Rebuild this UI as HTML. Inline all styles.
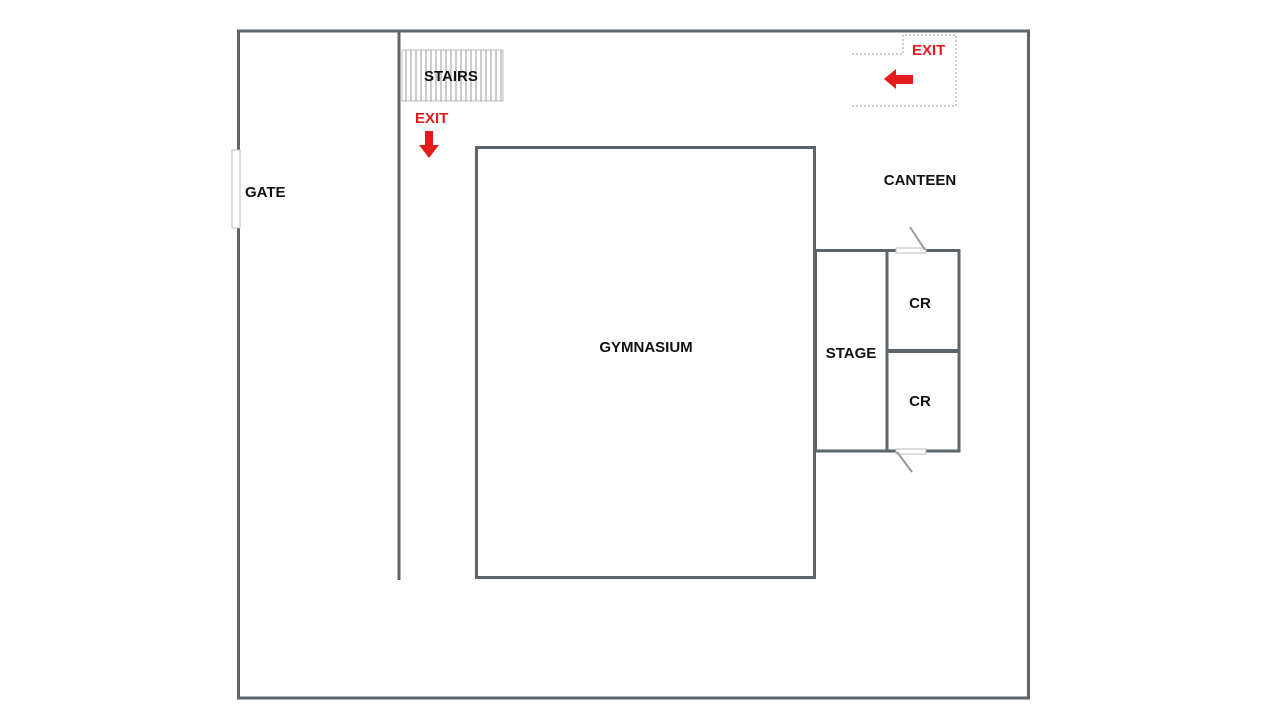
<!DOCTYPE html>
<html><head><meta charset="utf-8"><style>html,body{margin:0;padding:0;background:#fff}svg{display:block}text{font-family:"Liberation Sans",sans-serif;font-weight:bold}</style></head><body>
<svg width="1280" height="720" viewBox="0 0 1280 720">
<rect x="238.5" y="31" width="790" height="667" fill="none" stroke="#5b656b" stroke-width="3"/>
<rect x="232" y="150" width="8" height="78" fill="#fff" stroke="#bbb" stroke-width="1"/>
<text x="245" y="197" font-size="15" fill="#111">GATE</text>
<line x1="399" y1="31" x2="399" y2="580" stroke="#5b656b" stroke-width="3"/>
<rect x="402" y="50" width="101" height="51" fill="#fff" stroke="#bbb" stroke-width="1"/>
<g stroke="#999" stroke-width="1">
<line x1="406" y1="50" x2="406" y2="101"/><line x1="411" y1="50" x2="411" y2="101"/><line x1="416" y1="50" x2="416" y2="101"/><line x1="421" y1="50" x2="421" y2="101"/><line x1="426" y1="50" x2="426" y2="101"/><line x1="431" y1="50" x2="431" y2="101"/><line x1="436" y1="50" x2="436" y2="101"/><line x1="441" y1="50" x2="441" y2="101"/><line x1="446" y1="50" x2="446" y2="101"/><line x1="451" y1="50" x2="451" y2="101"/><line x1="456" y1="50" x2="456" y2="101"/><line x1="461" y1="50" x2="461" y2="101"/><line x1="466" y1="50" x2="466" y2="101"/><line x1="471" y1="50" x2="471" y2="101"/><line x1="476" y1="50" x2="476" y2="101"/><line x1="481" y1="50" x2="481" y2="101"/><line x1="486" y1="50" x2="486" y2="101"/><line x1="491" y1="50" x2="491" y2="101"/><line x1="496" y1="50" x2="496" y2="101"/><line x1="501" y1="50" x2="501" y2="101"/>
</g>
<rect x="423" y="66" width="62" height="18" fill="#fff" opacity="0"/>
<text x="424" y="81" font-size="15" fill="#111">STAIRS</text>
<text x="415" y="123" font-size="15" fill="#e41b1b">EXIT</text>
<polygon points="425,131 433,131 433,145 439,145 429,158 419,145 425,145" fill="#e41b1b"/>
<rect x="476.5" y="147.5" width="338" height="430" fill="none" stroke="#5b656b" stroke-width="3"/>
<text x="646" y="352" font-size="15" fill="#111" text-anchor="middle">GYMNASIUM</text>
<rect x="815.5" y="250.5" width="71.5" height="200.5" fill="none" stroke="#5b656b" stroke-width="3"/>
<rect x="887" y="250.5" width="72" height="200.5" fill="none" stroke="#5b656b" stroke-width="3"/>
<line x1="887" y1="351" x2="959" y2="351" stroke="#5b656b" stroke-width="4"/>
<rect x="896" y="248" width="30" height="5" fill="#fff" stroke="#bbb" stroke-width="1"/>
<rect x="896" y="449" width="30" height="5" fill="#fff" stroke="#bbb" stroke-width="1"/>
<line x1="925" y1="250" x2="910" y2="227" stroke="#999" stroke-width="2"/>
<line x1="897" y1="452" x2="912" y2="472" stroke="#999" stroke-width="2"/>
<text x="851" y="358" font-size="15" fill="#111" text-anchor="middle">STAGE</text>
<text x="920" y="308" font-size="15" fill="#111" text-anchor="middle">CR</text>
<text x="920" y="406" font-size="15" fill="#111" text-anchor="middle">CR</text>
<text x="920" y="185" font-size="15" fill="#111" text-anchor="middle">CANTEEN</text>
<path d="M852,54 L903,54 L903,35 L956,35 L956,106 L852,106" fill="none" stroke="#999" stroke-width="1" stroke-dasharray="2,2"/>
<text x="912" y="55" font-size="15" fill="#e41b1b">EXIT</text>
<polygon points="884,79 896,69 896,75 913,75 913,84 896,84 896,89" fill="#e41b1b"/>
</svg>
</body></html>
